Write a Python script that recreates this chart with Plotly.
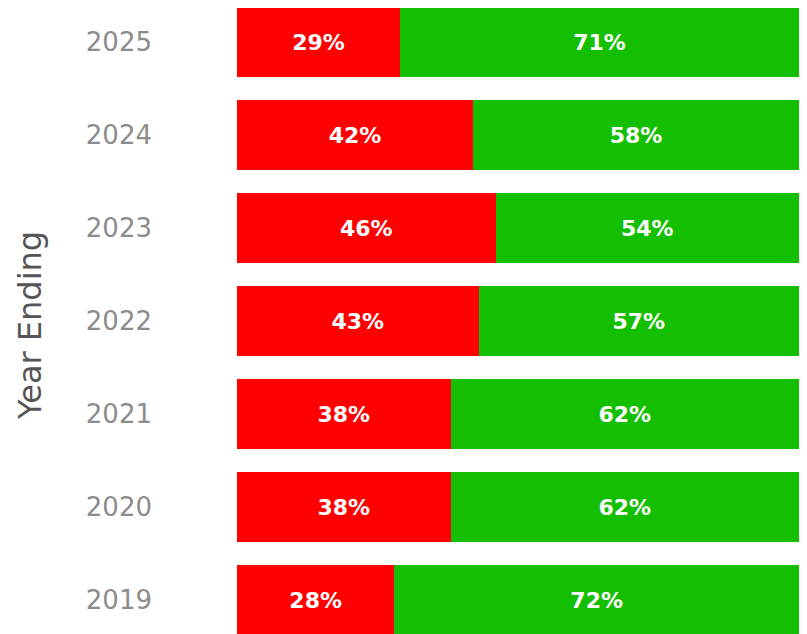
import plotly.graph_objects as go

years = ["2019", "2020", "2021", "2022", "2023", "2024", "2025"]
red_pct = [28, 38, 38, 43, 46, 42, 29]
green_pct = [72, 62, 62, 57, 54, 58, 71]

label_font = dict(family="DejaVu Sans", size=22, color="#FFFFFF", weight="bold")

fig = go.Figure()
fig.add_trace(go.Bar(
    y=years, x=red_pct, orientation="h", name="Red",
    marker=dict(color="#FF0000", line=dict(width=0)),
    texttemplate="%{x}%", textposition="inside", insidetextanchor="middle",
    textangle=0, constraintext="none", textfont=label_font,
    hoverinfo="skip",
))
fig.add_trace(go.Bar(
    y=years, x=green_pct, orientation="h", name="Green",
    marker=dict(color="#14BE00", line=dict(width=0)),
    texttemplate="%{x}%", textposition="inside", insidetextanchor="middle",
    textangle=0, constraintext="none", textfont=label_font,
    hoverinfo="skip",
))

fig.update_layout(
    barmode="stack",
    bargap=0.24,
    width=807, height=634,
    margin=dict(l=229, r=16, t=0, b=0),
    paper_bgcolor="white", plot_bgcolor="white",
    showlegend=False,
    xaxis=dict(range=[0, 100], visible=False, showgrid=False, zeroline=False),
    yaxis=dict(
        type="category", categoryorder="array", categoryarray=years,
        range=[-0.4516, 6.366],
        showgrid=False, zeroline=False, showline=False, ticks="",
        ticklabelstandoff=84,
        tickfont=dict(family="DejaVu Sans", size=26, color="#8c8c8c"),
        title=dict(text="Year Ending", standoff=34,
                   font=dict(family="DejaVu Sans", size=32, color="#555555")),
        automargin=False,
    ),
)

fig.write_html("out.html")
